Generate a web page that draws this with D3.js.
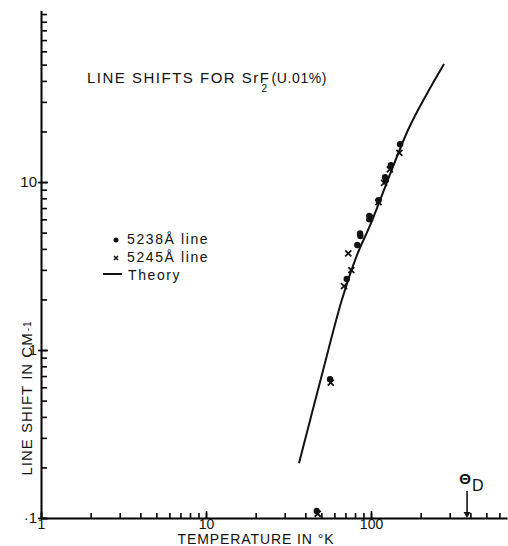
<!DOCTYPE html>
<html>
<head>
<meta charset="utf-8">
<script src="https://cdn.jsdelivr.net/npm/d3@7"></script>
<style>
  body { margin: 0; background: #fff; }
  text { font-family: "Liberation Sans", Arial, sans-serif; fill: #111; }
</style>
</head>
<body>
<svg width="508" height="546"></svg>
<script>
// 5238 A line (dots)
var dotTemps  = [150, 132, 121.6, 123, 111, 97.7, 97.7, 85.8, 86.2, 82.6, 71.3, 56.5, 46.9];
var dotShifts = [16.8, 12.6, 10.7, 10.3, 7.8, 6.28, 6.0, 4.95, 4.77, 4.22, 2.65, 0.67, 0.11];

// 5245 A line (crosses)
var crossTemps  = [148.5, 130, 120, 111, 98.5, 72.8, 76, 68.6, 57, 47.5];
var crossShifts = [14.9, 11.9, 9.9, 7.6, 6.1, 3.76, 2.99, 2.40, 0.64, 0.106];

// theory curve
var theoryTemps  = [36.6, 50, 66.4, 82, 100, 167.6, 220, 277];
var theoryShifts = [0.212, 0.69, 1.97, 3.65, 5.7, 20.4, 34, 50.4];

var debyeTemp = 382;

var xMajor = [1, 10, 100];
var xMajorLabels = ['1', '10', '100'];
var yMajor = [0.1, 1, 10];
var yMajorLabels = ['\u00b71', '1', '10'];

var svg = d3.select('svg');
var fontFamily = '"Liberation Sans", Arial, sans-serif';

var x = d3.scaleLog().domain([1, 667]).range([41, 507]);
var y = d3.scaleLog().domain([0.1, 105]).range([518, 10.5]);

var left = x.range()[0], right = x.range()[1];
var bottom = y.range()[0], top = y.range()[1];

// frame (top + right)
svg.append('path')
    .attr('d', 'M' + left + ',' + top + 'H' + right + 'V' + bottom)
    .attr('fill', 'none')
    .attr('stroke', '#333')
    .attr('stroke-width', 1.3);

// x axis - minor ticks
var xAxisG = svg.append('g')
    .attr('transform', 'translate(0,' + bottom + ')');
xAxisG.call(d3.axisBottom(x).tickValues(x.ticks()).tickSizeInner(-5).tickSizeOuter(0).tickFormat(''));
xAxisG.select('.domain').attr('stroke-width', 2);
xAxisG.selectAll('.tick line').attr('stroke-width', 1.6);

// x axis - majors with labels
var xMajorG = svg.append('g')
    .attr('transform', 'translate(0,' + bottom + ')');
xMajorG.call(d3.axisBottom(x).tickValues(xMajor).tickSizeInner(-7).tickSizeOuter(0).tickPadding(1)
    .tickFormat(function(d, i) { return xMajorLabels[i]; }));
xMajorG.attr('font-family', fontFamily).attr('font-size', 14);
xMajorG.select('.domain').remove();
xMajorG.selectAll('.tick line').attr('stroke-width', 1.6);
xMajorG.selectAll('.tick text').attr('fill', '#111');

// y axis - minor ticks
var yAxisG = svg.append('g')
    .attr('transform', 'translate(' + left + ',0)');
yAxisG.call(d3.axisLeft(y).tickValues(y.ticks()).tickSizeInner(-6).tickSizeOuter(0).tickFormat(''));
yAxisG.select('.domain').attr('stroke-width', 2);
yAxisG.selectAll('.tick line').attr('stroke-width', 1.6);

// y axis - majors with labels
var yMajorG = svg.append('g')
    .attr('transform', 'translate(' + left + ',0)');
yMajorG.call(d3.axisLeft(y).tickValues(yMajor).tickSizeInner(-7).tickSizeOuter(0).tickPadding(4)
    .tickFormat(function(d, i) { return yMajorLabels[i]; }));
yMajorG.attr('font-family', fontFamily).attr('font-size', 15);
yMajorG.select('.domain').remove();
yMajorG.selectAll('.tick line').attr('x1', -3).attr('stroke-width', 1.6);
yMajorG.selectAll('.tick text').attr('fill', '#111');

// theory curve
var theory = theoryTemps.map(function(t, i) { return { t: t, v: theoryShifts[i] }; });
var line = d3.line()
    .x(function(d) { return x(d.t); })
    .y(function(d) { return y(d.v); })
    .curve(d3.curveCatmullRom.alpha(0.5));

svg.append('path')
    .datum(theory)
    .attr('d', line)
    .attr('fill', 'none')
    .attr('stroke', '#111')
    .attr('stroke-width', 2);

// crosses
var crosses = crossTemps.map(function(t, i) { return { t: t, v: crossShifts[i] }; });
var cs = 3;
svg.selectAll('.cross')
    .data(crosses)
    .enter().append('path')
    .attr('class', 'cross')
    .attr('d', function(d) {
        var cx = x(d.t), cy = y(d.v);
        return 'M' + (cx - cs) + ',' + (cy - cs) + 'L' + (cx + cs) + ',' + (cy + cs) +
               'M' + (cx - cs) + ',' + (cy + cs) + 'L' + (cx + cs) + ',' + (cy - cs);
    })
    .attr('stroke', '#111')
    .attr('stroke-width', 1.8);

// dots
var dots = dotTemps.map(function(t, i) { return { t: t, v: dotShifts[i] }; });
svg.selectAll('.dot')
    .data(dots)
    .enter().append('circle')
    .attr('class', 'dot')
    .attr('cx', function(d) { return x(d.t); })
    .attr('cy', function(d) { return y(d.v); })
    .attr('r', 3.2)
    .attr('fill', '#111');

// Debye temperature arrow
var dx = x(debyeTemp);
svg.append('line')
    .attr('x1', dx).attr('x2', dx)
    .attr('y1', bottom - 27).attr('y2', bottom - 4)
    .attr('stroke', '#111')
    .attr('stroke-width', 1.6);
svg.append('path')
    .attr('d', 'M' + (dx - 3.5) + ',' + (bottom - 6) + 'L' + (dx + 3.5) + ',' + (bottom - 6) + 'L' + dx + ',' + bottom + 'Z')
    .attr('fill', '#111');
svg.append('text')
    .attr('x', dx - 2).attr('y', bottom - 34)
    .attr('text-anchor', 'middle')
    .attr('font-size', 15)
    .attr('font-weight', 'bold')
    .text('\u0398');
svg.append('text')
    .attr('x', dx + 5).attr('y', bottom - 27)
    .attr('font-size', 16)
    .text('D');

// title
var title = svg.append('text')
    .attr('x', 87).attr('y', 83)
    .attr('font-size', 15)
    .attr('letter-spacing', 1.5);
title.append('tspan').text('LINE SHIFTS FOR SrF');
title.append('tspan').attr('dx', -9).attr('dy', 9).attr('font-size', 10).text('2');
title.append('tspan').attr('dx', 3).attr('dy', -9).attr('font-size', 14).attr('letter-spacing', 0.6).text('(U.01%)');

// legend
svg.append('circle').attr('cx', 116).attr('cy', 240).attr('r', 2.5).attr('fill', '#111');
svg.append('text').attr('x', 127).attr('y', 244).attr('font-size', 14).attr('letter-spacing', 1.6).text('5238\u00c5 line');
svg.append('path')
    .attr('d', 'M114,256L118,260M114,260L118,256')
    .attr('stroke', '#111').attr('stroke-width', 1.5);
svg.append('text').attr('x', 127).attr('y', 262).attr('font-size', 14).attr('letter-spacing', 1.6).text('5245\u00c5 line');
svg.append('line').attr('x1', 103).attr('x2', 122).attr('y1', 274).attr('y2', 274)
    .attr('stroke', '#111').attr('stroke-width', 2);
svg.append('text').attr('x', 128).attr('y', 280).attr('font-size', 14).attr('letter-spacing', 1.6).text('Theory');

// axis titles
var yTitle = svg.append('text')
    .attr('transform', 'translate(32,398) rotate(-90)')
    .attr('text-anchor', 'middle')
    .attr('font-size', 15)
    .attr('letter-spacing', 1);
yTitle.append('tspan').text('LINE SHIFT IN CM');
yTitle.append('tspan').attr('dy', -1).attr('dx', 1).attr('font-size', 10).text('-1');

svg.append('text')
    .attr('x', 256).attr('y', 543.5)
    .attr('text-anchor', 'middle')
    .attr('font-size', 14)
    .attr('letter-spacing', 0.9)
    .text('TEMPERATURE IN \u00b0K');
</script>
</body>
</html>
